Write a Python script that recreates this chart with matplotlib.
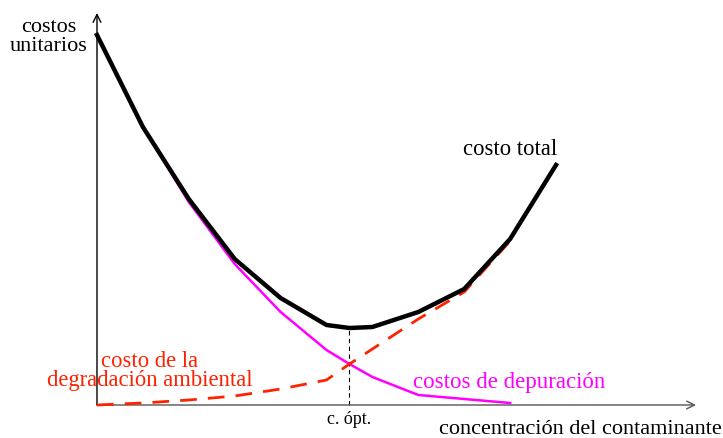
import numpy as np
import matplotlib
matplotlib.use('Agg')
import matplotlib.pyplot as plt

# concentration steps (c. opt. sits at 5.5)
conc = [0, 1, 2, 3, 4, 5, 5.5, 6, 7, 8, 9, 10]
total = [37.0, 27.8, 20.6, 14.6, 10.7, 8.0, 7.7, 7.8, 9.3, 11.6, 16.6, 24.0]

conc_dep = [0, 1, 2, 3, 4, 5, 5.5, 6, 7, 9]
depuracion = [37.0, 27.8, 20.3, 14.1, 9.3, 5.5, 4.1, 2.8, 1.0, 0.2]

conc_deg = [0, 1, 2, 3, 4, 5, 5.5, 6, 7, 8, 9]
degradacion = [0.0, 0.2, 0.5, 0.9, 1.6, 2.5, 4.1, 5.6, 8.6, 11.3, 16.4]

c_opt = 5.5

plt.rcParams['font.family'] = ['Liberation Serif', 'DejaVu Serif']

fig = plt.figure(figsize=(7.23, 4.39), dpi=100)
ax = fig.add_axes([0, 0, 1, 1])
ax.set_xlim(-2.113, 13.638)
ax.set_ylim(-3.3, 40.6)
ax.axis('off')

# axes as arrows
ax.annotate('', xy=(13.05, 0), xytext=(0, 0),
            arrowprops=dict(arrowstyle='->', color='#555555', lw=1.0,
                            shrinkA=0, shrinkB=0, mutation_scale=14))
ax.annotate('', xy=(0, 39.2), xytext=(0, 0),
            arrowprops=dict(arrowstyle='->', color='black', lw=1.0,
                            shrinkA=0, shrinkB=0, mutation_scale=14))

ax.plot(conc_dep, depuracion, '-', color='magenta', lw=1.8, zorder=3)
ax.plot(conc_deg, degradacion, '--', color='#ff2200', lw=2, dashes=(6, 4), zorder=3)
ax.plot(conc, total, '-', color='black', lw=3.2, zorder=4)

# optimum marker
opt_y = float(np.interp(c_opt, conc, total))
ax.plot([c_opt, c_opt], [0, opt_y], '--', color='black', lw=0.8, dashes=(4, 3), zorder=2)

ax.text(c_opt, -1.4, 'c. ópt.', ha='center', va='center', fontsize=13)
ax.text(13.6, -2.4, 'concentración del contaminante', ha='right', va='center',
        fontsize=16)
ax.text(-1.05, 36.9, 'costos\nunitarios', ha='center', va='center', fontsize=16,
        linespacing=0.95)
ax.text(9.0, 25.6, 'costo total', ha='center', va='center', fontsize=16.3)
ax.text(1.15, 3.5, 'costo de la\ndegradación ambiental', ha='center', va='center',
        fontsize=16.3, color='#ff2200', linespacing=0.82, zorder=5)
ax.text(6.88, 2.3, 'costos de depuración', ha='left', va='center', fontsize=16.5,
        color='magenta')

plt.savefig('out.png', dpi=100)
